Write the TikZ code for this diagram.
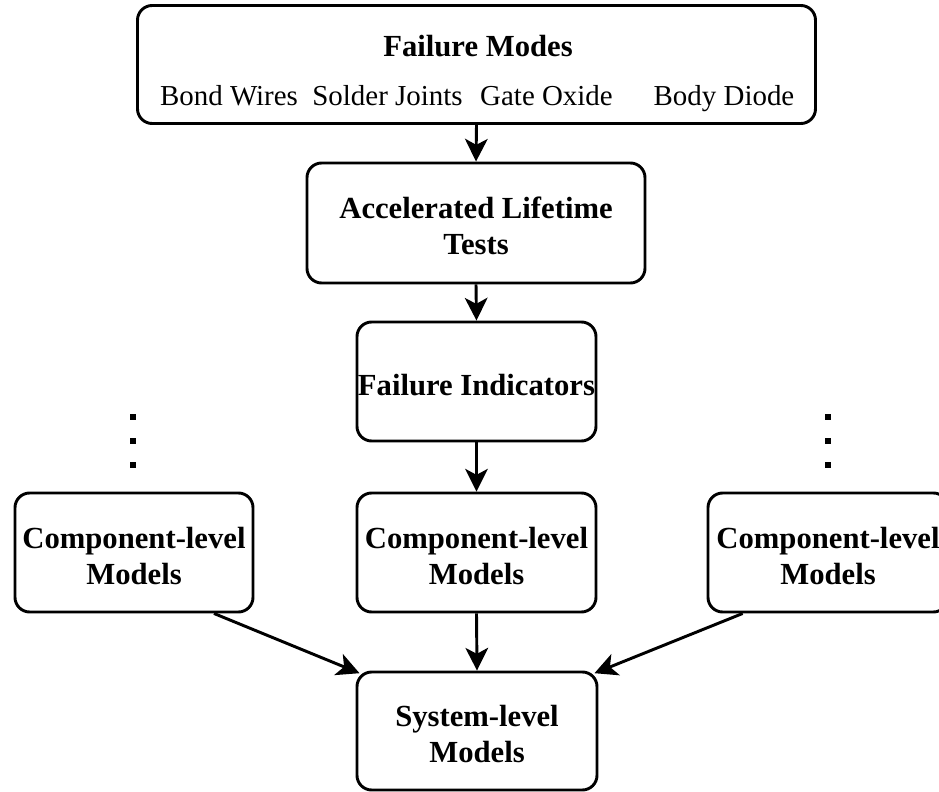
\documentclass[tikz,border=0pt]{standalone}
\usepackage{fontspec}
\setmainfont{Liberation Serif}
\usetikzlibrary{arrows.meta}

% centred block of lines, set slightly below the middle of its box
\newcommand\boxlines[1]{\raisebox{-5pt}[\height][\depth]{\begin{tabular}{@{}c@{}}#1\end{tabular}}}

\tikzset{
  every picture/.style={x=0.75pt,y=-0.75pt},
  box/.style={draw, line width=2.2pt, rounded corners=11pt, fill=white,
    inner sep=0pt,
    font=\bfseries\fontsize{23}{27}\selectfont},
  boxtext/.style={inner sep=0pt, align=center,
    font=\bfseries\fontsize{23}{27}\selectfont},
  itemtext/.style={inner sep=0pt, anchor=base,
    font=\fontsize{21.7}{26}\selectfont},
  arr/.style={line width=2.2pt,
    -{Stealth[length=17pt, width=17pt, inset=4.5pt]}},
  dot/.style={fill=black}
}

\begin{document}
\begin{tikzpicture}
\clip (0,0) rectangle (939,792);
\fill[white] (0,0) rectangle (939,792);

% top block: failure modes and their four categories
\node[box, minimum width=508.5pt, minimum height=88.5pt] (fm) at (476.5,64.5) {};
\node[boxtext] (fmt) at (478,46) {Failure Modes};
\node[itemtext] (bw) at (229,105) {Bond Wires};
\node[itemtext] (sj) at (387.5,105) {Solder Joints};
\node[itemtext] (go) at (546.5,105) {Gate Oxide};
\node[itemtext] (bd) at (724,105) {Body Diode};

% main chain
\node[box, minimum width=253.5pt, minimum height=90pt] (alt) at (476,223)
  {\boxlines{Accelerated Lifetime\\Tests}};
\node[box, minimum width=179.25pt, minimum height=89.25pt] (fi) at (476.5,381.5)
  {\boxlines{Failure Indicators}};
\node[box, minimum width=179.25pt, minimum height=89.25pt] (mc) at (476.5,552.5)
  {\boxlines{Component-level\\Models}};
\node[box, minimum width=178.5pt, minimum height=89.25pt] (lc) at (134,552.5)
  {\boxlines{Component-level\\Models}};
\node[box, minimum width=180pt, minimum height=89.25pt] (rc) at (828,552.5)
  {\boxlines{Component-level\\Models}};
\node[box, minimum width=180pt, minimum height=88.5pt] (sys) at (477,731)
  {\boxlines{System-level\\Models}};

% vertical ellipses above the side models
\foreach \yy in {417,441,465}{
  \fill[dot] (130,\yy-3) rectangle (136,\yy+3);
  \fill[dot] (825,\yy-3) rectangle (831,\yy+3);
}

% connectors
\draw[arr] (fm.south) -- (alt.north);
\draw[arr] (alt.south) -- (fi.north);
\draw[arr] (fi.south) -- (mc.north);
\draw[arr] (mc.south) -- (sys.north);
\draw[arr] ([xshift=60pt]lc.south) -- ([xshift=3pt,yshift=-2pt]sys.north west);
\draw[arr] ([xshift=-64pt]rc.south) -- ([xshift=-3pt,yshift=-2pt]sys.north east);
\end{tikzpicture}
\end{document}
